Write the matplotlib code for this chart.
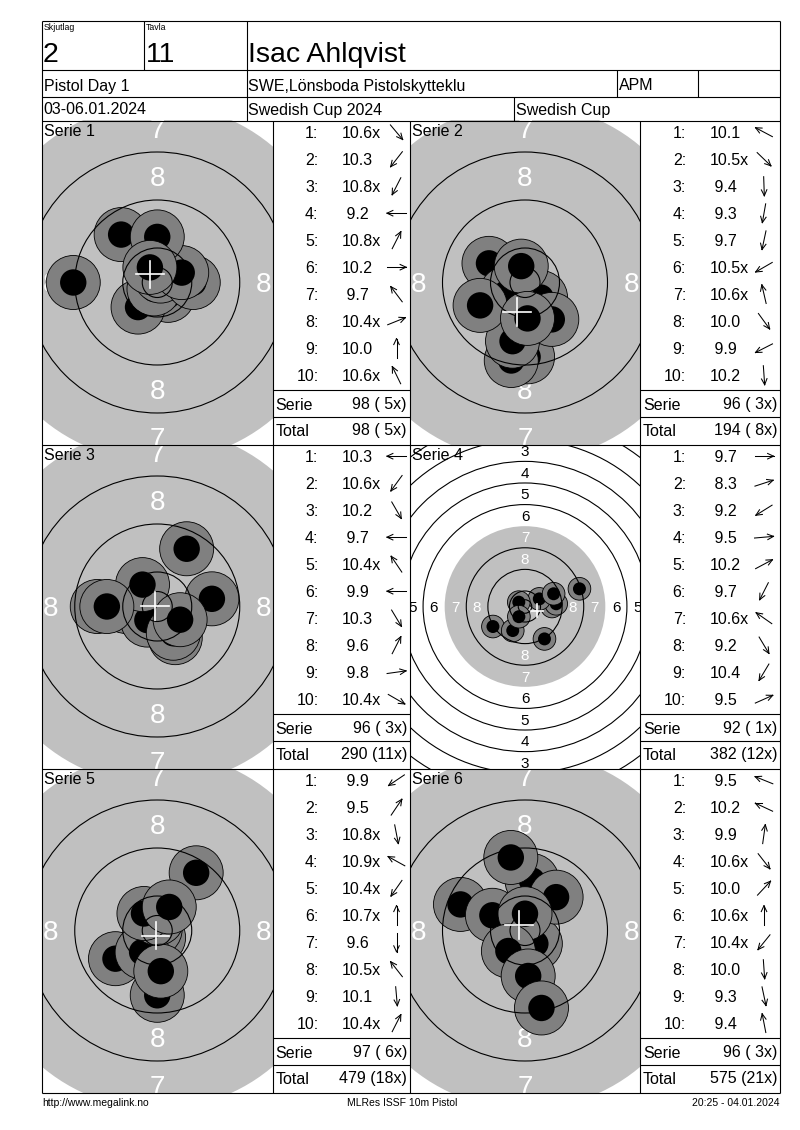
import numpy as np
import matplotlib
matplotlib.use("Agg")
import matplotlib.pyplot as plt
from matplotlib.patches import Circle

plt.rcParams['font.family'] = ['Liberation Sans', 'DejaVu Sans']

# ---------------- data ----------------
relay_label = "Skjutlag"
relay = "2"
lane_label = "Tavla"
lane = "11"
shooter = "Isac Ahlqvist"
event = "Pistol Day 1"
club = "SWE,Lönsboda Pistolskytteklu"
klass = "APM"
dates = "03-06.01.2024"
competition = "Swedish Cup 2024"
cup = "Swedish Cup"
footer_left = "http://www.megalink.no"
footer_mid = "MLRes ISSF 10m Pistol"
footer_right = "20:25 - 04.01.2024"

serie_names = ["Serie 1", "Serie 2", "Serie 3", "Serie 4", "Serie 5", "Serie 6"]

serie1_scores = ["10.6x", "10.3", "10.8x", "9.2", "10.8x", "10.2", "9.7", "10.4x", "10.0", "10.6x"]
serie2_scores = ["10.1", "10.5x", "9.4", "9.3", "9.7", "10.5x", "10.6x", "10.0", "9.9", "10.2"]
serie3_scores = ["10.3", "10.6x", "10.2", "9.7", "10.4x", "9.9", "10.3", "9.6", "9.8", "10.4x"]
serie4_scores = ["9.7", "8.3", "9.2", "9.5", "10.2", "9.7", "10.6x", "9.2", "10.4", "9.5"]
serie5_scores = ["9.9", "9.5", "10.8x", "10.9x", "10.4x", "10.7x", "9.6", "10.5x", "10.1", "10.4x"]
serie6_scores = ["9.5", "10.2", "9.9", "10.6x", "10.0", "10.6x", "10.4x", "10.0", "9.3", "9.4"]

# shot direction from target centre (degrees, counter-clockwise from right)
serie1_dirs = [-50, -128, -117, 180, 63, 0, 127, 22, 90, 116]
serie2_dirs = [152, -44, -88, -100, -102, -150, 103, -54, -153, -86]
serie3_dirs = [180, -126, -60, 180, 124, 180, -59, 63, 8, -30]
serie4_dirs = [0, 18, -148, 5, 28, -117, 145, -59, -121, 24]
serie5_dirs = [-146, 56, -79, 151, -125, 90, -90, 128, -85, 63]
serie6_dirs = [158, 155, 82, -52, 47, 90, -129, -86, -78, 101]

all_scores = [serie1_scores, serie2_scores, serie3_scores,
              serie4_scores, serie5_scores, serie6_scores]
all_dirs = [serie1_dirs, serie2_dirs, serie3_dirs,
            serie4_dirs, serie5_dirs, serie6_dirs]
full_view = [False, False, False, True, False, False]

# ---------------- layout ----------------
W, H = 800, 1130
fig = plt.figure(figsize=(W / 100, H / 100), dpi=100)
fig.patch.set_facecolor("white")

X_L, X_R = 42, 780
HEAD_Y = [21, 69.5, 97, 120.5]
ROW_TOP0, ROW_H = 120.5, 324
TGT_X = [(42, 272.5), (410, 640)]
TAB_X = [(272.5, 410), (640, 780)]
LW = 0.8
GREY = "#c0c0c0"
SHOT_GREY = "#808080"


def ring_radius(n):
    return 5.75 + 8.0 * (10 - n)


def shot_distance(score):
    # decimal scoring: 0.1 point = 0.8 mm, 10.0 edge at 8 mm
    return (10.95 - score) * 8.0


def parse(s):
    return float(s.rstrip("x")), s.endswith("x")


def draw_target(idx, row, col):
    x0, x1 = TGT_X[col]
    top = ROW_TOP0 + row * ROW_H
    ax = fig.add_axes([x0 / W, 1 - (top + ROW_H) / H, (x1 - x0) / W, ROW_H / H])
    scale = 2.7 if full_view[idx] else 6.0
    hw = (x1 - x0) / 2 / scale
    hh = ROW_H / 2 / scale
    ax.set_xlim(-hw, hw)
    ax.set_ylim(-hh, hh)
    ax.set_axis_off()
    ax.add_patch(Circle((0, 0), ring_radius(7), fc=GREY, ec="none", zorder=1))

    # ring numbers
    fs = 11 if full_view[idx] else 20
    em_mm = fs * 100 / 72 / scale
    for n in range(1, 9):
        r = ring_radius(n) - 4.0
        col_txt = "white" if n >= 7 else "black"
        for (px, py) in [(0, r), (0, -r), (-r, 0), (r, 0)]:
            ax.text(px, py - 0.36 * em_mm, str(n), ha="center", va="baseline",
                    fontsize=fs, color=col_txt, zorder=2, clip_on=True)

    # shots
    scores = [parse(s)[0] for s in all_scores[idx]]
    dirs = np.radians(all_dirs[idx])
    d = np.array([shot_distance(s) for s in scores])
    xs = d * np.cos(dirs)
    ys = d * np.sin(dirs)
    rg, rb = (4.2, 2.4) if full_view[idx] else (4.5, 2.2)
    z = 3
    for x, y in zip(xs, ys):
        ax.add_patch(Circle((x, y), rg, fc=SHOT_GREY, ec="black", lw=0.6, zorder=z))
        ax.add_patch(Circle((x, y), rb, fc="black", ec="none", zorder=z + 0.5))
        z += 1

    # ring lines on top
    radii = [2.5] + [ring_radius(n) for n in range(10, 0, -1) if n != 7]
    for r in radii:
        ax.add_patch(Circle((0, 0), r, fc="none", ec="black", lw=LW, zorder=50))

    # mean point of impact
    mx, my = xs.mean(), ys.mean()
    c = 2.3
    ax.plot([mx - c, mx + c], [my, my], color="white", lw=1.2, zorder=60)
    ax.plot([mx, mx], [my - c, my + c], color="white", lw=1.2, zorder=60)


order = [(0, 0), (0, 1), (1, 0), (1, 1), (2, 0), (2, 1)]
for idx, (row, col) in enumerate(order):
    draw_target(idx, row, col)

ov = fig.add_axes([0, 0, 1, 1], zorder=10)
ov.set_xlim(0, W)
ov.set_ylim(H, 0)
ov.set_axis_off()
ov.patch.set_alpha(0)


def hline(y, xa, xb):
    ov.plot([xa, xb], [y, y], color="black", lw=LW, solid_capstyle="butt")


def vline(x, ya, yb):
    ov.plot([x, x], [ya, yb], color="black", lw=LW, solid_capstyle="butt")


# header grid
for y in HEAD_Y:
    hline(y, X_L, X_R)
BOTTOM = ROW_TOP0 + 3 * ROW_H
vline(X_L, HEAD_Y[0], BOTTOM)
vline(X_R, HEAD_Y[0], BOTTOM)
vline(144, HEAD_Y[0], HEAD_Y[1])
vline(247, HEAD_Y[0], HEAD_Y[3])
vline(617, HEAD_Y[1], HEAD_Y[2])
vline(698, HEAD_Y[1], HEAD_Y[2])
vline(514, HEAD_Y[2], HEAD_Y[3])

# header texts
ov.text(44, 30, relay_label, fontsize=6.3, va="baseline")
ov.text(43, 62, relay, fontsize=20.5, va="baseline")
ov.text(146, 30, lane_label, fontsize=6.3, va="baseline")
ov.text(146, 62, lane, fontsize=20.5, va="baseline")
ov.text(247.5, 62, shooter, fontsize=20.5, va="baseline")
ov.text(43.5, 90.5, event, fontsize=11.5, va="baseline")
ov.text(248.5, 90.5, club, fontsize=11.5, va="baseline")
ov.text(618.5, 90.5, klass, fontsize=11.5, va="baseline")
ov.text(43.5, 114.5, dates, fontsize=11.5, va="baseline")
ov.text(248.5, 114.5, competition, fontsize=11.5, va="baseline")
ov.text(515.5, 114.5, cup, fontsize=11.5, va="baseline")

# panel grid
for r in range(1, 4):
    hline(ROW_TOP0 + r * ROW_H, X_L, X_R)
vline(272.5, ROW_TOP0, BOTTOM)
vline(410, ROW_TOP0, BOTTOM)
vline(640, ROW_TOP0, BOTTOM)


def arrow(cx, cy, ang_deg, L=19, head=6.5, spread=25):
    a = np.radians(ang_deg)
    ux, uy = np.cos(a), -np.sin(a)
    tx, ty = cx + ux * L / 2, cy + uy * L / 2
    sx, sy = cx - ux * L / 2, cy - uy * L / 2
    ov.plot([sx, tx], [sy, ty], color="black", lw=0.75)
    for s in (spread, -spread):
        b = a + np.pi + np.radians(s)
        ov.plot([tx, tx + head * np.cos(b)], [ty, ty - head * np.sin(b)],
                color="black", lw=0.75)


running_total = 0
running_x = 0
for idx, (row, col) in enumerate(order):
    top = ROW_TOP0 + row * ROW_H
    tx0, tx1 = TAB_X[col]
    gx0 = TGT_X[col][0]
    ov.text(gx0 + 1.5, top + 15, serie_names[idx], fontsize=11.5, va="baseline")
    ssum, sx = 0, 0
    for i, (s, ang) in enumerate(zip(all_scores[idx], all_dirs[idx])):
        val, inner = parse(s)
        ssum += int(val)
        sx += int(inner)
        base = top + 17.5 + 27 * i
        ov.text(tx0 + 46, base, f"{i + 1}:", fontsize=11.5, ha="right", va="baseline")
        txt = f"{val:>4.1f}" + ("x" if inner else "")
        ov.text(tx0 + 69.5, base, txt, fontsize=11.5, ha="left", va="baseline")
        arrow(tx0 + 124, base - 5.8, ang)
    running_total += ssum
    running_x += sx
    hline(top + 269, tx0, tx1)
    hline(top + 296.5, tx0, tx1)
    ov.text(tx0 + 3, top + 289, "Serie", fontsize=11.5, va="baseline")
    ov.text(tx1 - 3, top + 289, f"{ssum} ({sx:>2}x)", fontsize=11.5, ha="right", va="baseline")
    ov.text(tx0 + 3, top + 315, "Total", fontsize=11.5, va="baseline")
    ov.text(tx1 - 3, top + 315, f"{running_total} ({running_x:>2}x)", fontsize=11.5,
            ha="right", va="baseline")

# footer
ov.text(42, 1106, footer_left, fontsize=7.5, va="baseline")
ov.text(402, 1106, footer_mid, fontsize=7.5, ha="center", va="baseline")
ov.text(780, 1106, footer_right, fontsize=7.5, ha="right", va="baseline")

fig.savefig("out.png", dpi=100, facecolor="white")
